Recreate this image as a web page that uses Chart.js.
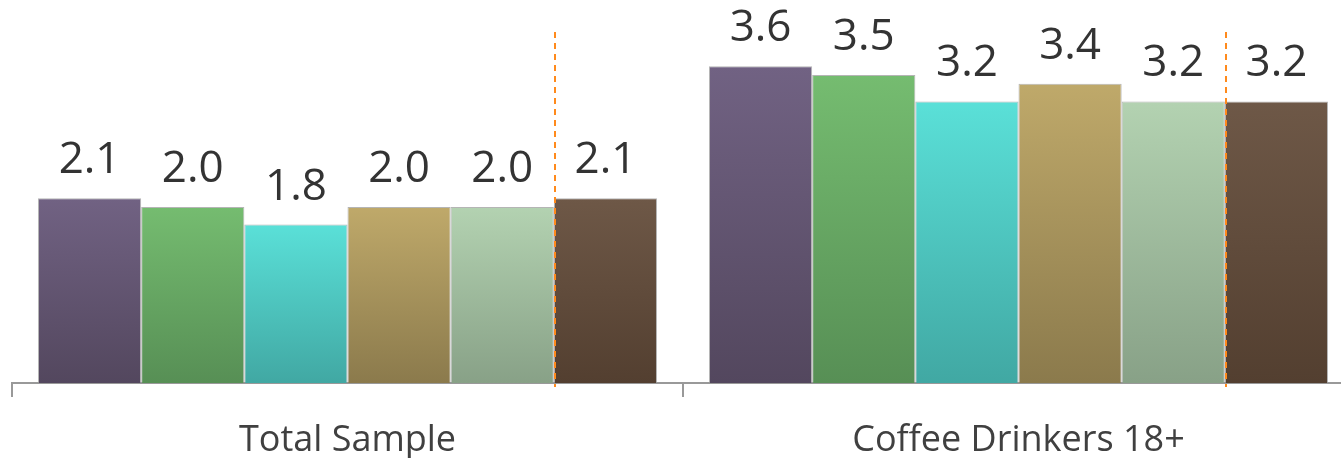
<!DOCTYPE html>
<html>
<head>
<meta charset="utf-8">
<script src="https://cdn.jsdelivr.net/npm/chart.js@4"></script>
<style>
  html, body { margin: 0; padding: 0; background: #fff; overflow: hidden; }
</style>
</head>
<body>
<canvas id="chart" width="1354" height="458"></canvas>
<script>
// data
const categories = ['Total Sample', 'Coffee Drinkers 18+'];
const seriesNames = ['Series 1', 'Series 2', 'Series 3', 'Series 4', 'Series 5', 'Series 6'];
const series1 = [2.1, 3.6];
const series2 = [2.0, 3.5];
const series3 = [1.8, 3.2];
const series4 = [2.0, 3.4];
const series5 = [2.0, 3.2];
const series6 = [2.1, 3.2];
const yMin = 0;
const yMax = 4;

// gradient colours, top -> bottom
const topColors = ['#716283', '#75bc70', '#5ae0d8', '#bfa96a', '#b3d2b1', '#6e5847'];
const bottomColors = ['#53475e', '#578f55', '#41a8a3', '#8b7a4c', '#88a187', '#533f30'];

function barGradient(i) {
    return function(ctx) {
        const chart = ctx.chart;
        const y = chart.scales.y;
        if (!chart.chartArea || !y || ctx.parsed === undefined) return topColors[i];
        const top = y.getPixelForValue(ctx.parsed.y);
        const bottom = y.getPixelForValue(0);
        const g = chart.ctx.createLinearGradient(0, top, 0, bottom);
        g.addColorStop(0, topColors[i]);
        g.addColorStop(1, bottomColors[i]);
        return g;
    };
}

const allSeries = [series1, series2, series3, series4, series5, series6];

// dashed orange line between 5th and 6th bar + value labels
const extrasPlugin = {
    id: 'extras',
    afterDatasetsDraw(chart) {
        const ctx = chart.ctx;
        const area = chart.chartArea;
        const meta5 = chart.getDatasetMeta(4);
        ctx.save();
        ctx.strokeStyle = '#ff8a1c';
        ctx.lineWidth = 2;
        ctx.setLineDash([6, 5]);
        meta5.data.forEach(bar => {
            const x = Math.round(bar.x + bar.width / 2) + 1;
            ctx.beginPath();
            ctx.moveTo(x, area.top + 1);
            ctx.lineTo(x, area.bottom + 4);
            ctx.stroke();
        });
        ctx.setLineDash([]);

        ctx.fillStyle = '#333333';
        ctx.font = '44px "Open Sans"';
        ctx.textAlign = 'center';
        ctx.textBaseline = 'alphabetic';
        chart.data.datasets.forEach((ds, di) => {
            chart.getDatasetMeta(di).data.forEach((bar, j) => {
                ctx.fillText(ds.data[j].toFixed(1), bar.x, bar.y - 25);
            });
        });
        ctx.restore();
    }
};

new Chart(document.getElementById('chart'), {
    type: 'bar',
    data: {
        labels: categories,
        datasets: allSeries.map((vals, i) => ({
            label: seriesNames[i],
            data: vals,
            backgroundColor: barGradient(i),
            borderColor: 'rgba(150,150,150,0.7)',
            borderWidth: 1,
            categoryPercentage: 0.9225,
            barPercentage: 1.0
        }))
    },
    options: {
        responsive: false,
        animation: false,
        layout: { padding: { left: 12, top: 31, right: 0, bottom: 0 } },
        plugins: {
            legend: { display: false },
            tooltip: { enabled: false }
        },
        scales: {
            x: {
                offset: true,
                afterFit(scale) { scale.height = 75; },
                grid: {
                    offset: true,
                    drawOnChartArea: false,
                    drawTicks: true,
                    tickLength: 14,
                    color: '#999999',
                    lineWidth: 2
                },
                border: { display: true, color: '#999999', width: 2 },
                ticks: {
                    color: '#404040',
                    font: { family: 'Open Sans', size: 36 },
                    padding: 22
                }
            },
            y: {
                display: false,
                min: yMin,
                max: yMax
            }
        }
    },
    plugins: [extrasPlugin]
});
</script>
</body>
</html>
